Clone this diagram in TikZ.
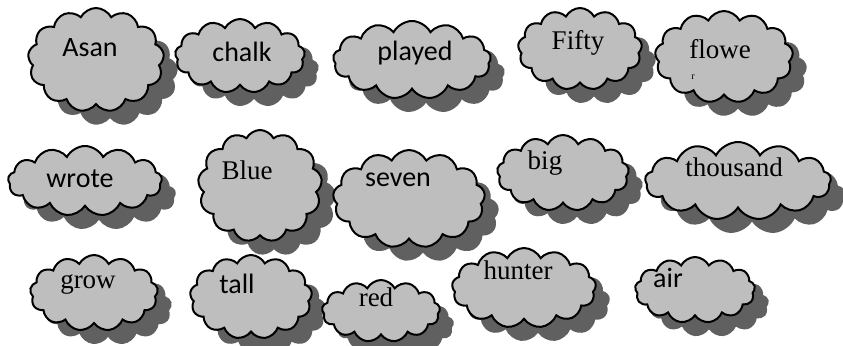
\documentclass[tikz,border=0pt]{standalone}
\usepackage{fontspec}
\setmainfont{Liberation Serif}
\newfontfamily\wordsans{Carlito}
\usepackage{xcolor}
\usepackage{tikz}
\usetikzlibrary{shapes.symbols, shadows, positioning}
\definecolor{CloudFill}{RGB}{190, 190, 190}
\definecolor{CloudShadow}{RGB}{96, 96, 96}
\definecolor{CloudLine}{RGB}{0, 0, 0}

\tikzset{
  wordcloud/.style={
    cloud, cloud ignores aspect, cloud puffs=13, cloud puff arc=125,
    draw=CloudLine, fill=CloudFill, line width=1pt, inner sep=0pt,
    drop shadow={shadow xshift=7pt, shadow yshift=-7pt,
      fill=CloudShadow, opacity=1}
  },
  serifword/.style={font=\fontsize{13.5}{15}\selectfont, inner sep=0pt},
  sansword/.style={font=\wordsans\fontsize{14}{16}\selectfont, inner sep=0pt}
}

\begin{document}
\begin{tikzpicture}[x=0.5pt, y=-0.5pt]
    \useasboundingbox (0,0) rectangle (843,345);

    % row 1
    \node[wordcloud, minimum width=68pt, minimum height=52pt] (c-asan) at (96,60) {};
    \node[wordcloud, minimum width=65pt, minimum height=37pt] (c-chalk) at (240,56) {};
    \node[wordcloud, minimum width=79pt, minimum height=39pt] (c-played) at (412,60) {};
    \node[wordcloud, minimum width=62pt, minimum height=41pt] (c-fifty) at (580,49) {};
    \node[wordcloud, minimum width=69pt, minimum height=46pt] (c-flowe) at (724,57) {};

    % row 2
    \node[wordcloud, minimum width=77pt, minimum height=35pt] (c-wrote) at (85,181) {};
    \node[wordcloud, minimum width=62pt, minimum height=56pt] (c-blue) at (260,186) {};
    \node[wordcloud, minimum width=76pt, minimum height=49pt] (c-seven) at (409,199) {};
    \node[wordcloud, minimum width=66pt, minimum height=38pt] (c-big) at (563,173) {};
    \node[wordcloud, minimum width=93pt, minimum height=39pt] (c-thousand) at (738,181) {};

    % row 3
    \node[wordcloud, minimum width=64pt, minimum height=38pt] (c-grow) at (94,293) {};
    \node[wordcloud, minimum width=61pt, minimum height=42pt] (c-tall) at (251,297) {};
    \node[wordcloud, minimum width=59pt, minimum height=31pt] (c-red) at (381,311) {};
    \node[wordcloud, minimum width=72pt, minimum height=40pt] (c-hunter) at (524,288) {};
    \node[wordcloud, minimum width=60pt, minimum height=33pt] (c-air) at (695,290) {};

    % words
    \node[sansword]  (w-asan)     at (90,48)   {Asan};
    \node[sansword]  (w-chalk)    at (242,52)  {chalk};
    \node[sansword]  (w-played)   at (415,53)  {played};
    \node[serifword] (w-fifty)    at (578,43)  {Fifty};
    \node[serifword] (w-flowe)    at (720,49)  {flowe};
    \node[serifword, font=\fontsize{5}{6}\selectfont] (w-flowe-r) at (693,77) {r};
    \node[sansword]  (w-wrote)    at (80,179)  {wrote};
    \node[serifword] (w-blue)     at (247,170) {Blue};
    \node[sansword]  (w-seven)    at (398,180) {seven};
    \node[serifword] (w-big)      at (545,163) {big};
    \node[serifword] (w-thousand) at (734,167) {thousand};
    \node[serifword] (w-grow)     at (88,284)  {grow};
    \node[sansword]  (w-tall)     at (237,284) {tall};
    \node[serifword] (w-red)      at (376,297) {red};
    \node[serifword] (w-hunter)   at (518,270) {hunter};
    \node[sansword]  (w-air)      at (668,278) {air};
  \end{tikzpicture}
\end{document}
